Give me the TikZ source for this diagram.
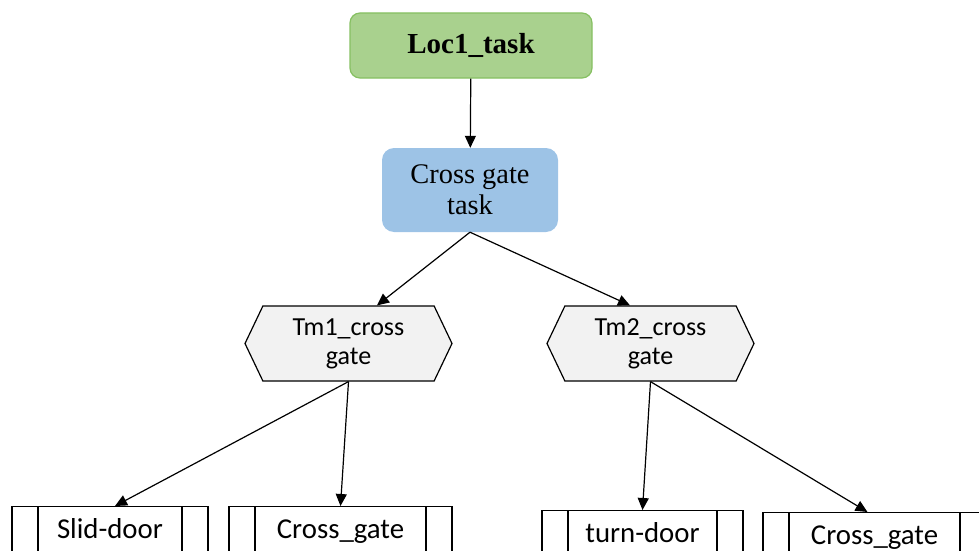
\documentclass[tikz,border=0pt]{standalone}
\usepackage{fontspec}
\setmainfont{Liberation Serif}
\newfontfamily\calibri{Carlito}
\usepackage{xcolor}
\usepackage{tikz}
\usetikzlibrary{shapes.symbols, arrows.meta, positioning}

\definecolor{taskgreen}{HTML}{A9D18E}
\definecolor{taskgreenline}{HTML}{86C062}
\definecolor{taskblue}{HTML}{9DC3E6}
\definecolor{tmgray}{HTML}{F2F2F2}

\begin{document}
\begin{tikzpicture}[x=1pt, y=1pt]
\tikzstyle{rootbox} = [rectangle, rounded corners=10pt, draw=taskgreenline, line width=1.2pt, fill=taskgreen, minimum width=242pt, minimum height=65pt, font=\fontsize{29}{33}\selectfont\bfseries]
\tikzstyle{taskbox} = [rectangle, rounded corners=12pt, fill=taskblue, minimum width=176pt, minimum height=84pt, align=center, font=\fontsize{28.4}{31}\selectfont]
\tikzstyle{tmbox} = [signal, signal to=west and east, signal pointer angle=129, draw, line width=1.2pt, fill=tmgray, minimum width=207pt, minimum height=75pt, align=center, font=\calibri\fontsize{26}{29}\selectfont]
\tikzstyle{procbox} = [rectangle, draw, line width=1.2pt, minimum height=50pt, anchor=north, text height=19pt, text depth=6pt, font=\calibri\fontsize{28.8}{33}\selectfont,
  path picture={
    \draw[line width=1.2pt] ([xshift=26pt]path picture bounding box.north west) -- ([xshift=26pt]path picture bounding box.south west);
    \draw[line width=1.2pt] ([xshift=-26pt]path picture bounding box.north east) -- ([xshift=-26pt]path picture bounding box.south east);
  }]
\tikzstyle{link} = [line width=1.2pt, -{Triangle[length=12pt,width=11pt]}]

\clip (0,0) rectangle (979,-551);

% task tree
\node (loc) [rootbox] at (471,-45.5) {Loc1\_task};
\node (cgt) [taskbox] at (470,-190) {Cross gate\\task};

\node (tm1) [tmbox] at (348.5,-343.5) {Tm1\_cross\\gate};
\node (tm2) [tmbox] at (650.5,-343.5) {Tm2\_cross\\gate};

% leaf methods
\node (slid) [procbox, minimum width=196pt] at (110,-506) {Slid-door};
\node (cg1) [procbox, minimum width=223pt] at (340.5,-506) {Cross\_gate};
\node (turn) [procbox, minimum width=201pt] at (642.5,-510) {turn-door};
\node (cg2) [procbox, minimum width=223pt] at (874.5,-512) {Cross\_gate};

\draw [link] (loc) -- (cgt);
\draw [link] (cgt.south) -- ([xshift=28.5pt]tm1.north);
\draw [link] (cgt.south) -- ([xshift=-20.5pt]tm2.north);
\draw [link] (tm1.south) -- ([xshift=5pt]slid.north);
\draw [link] (tm1.south) -- (cg1.north);
\draw [link] (tm2.south) -- (turn.north);
\draw [link] (tm2.south) -- ([xshift=-7pt]cg2.north);

\end{tikzpicture}
\end{document}
